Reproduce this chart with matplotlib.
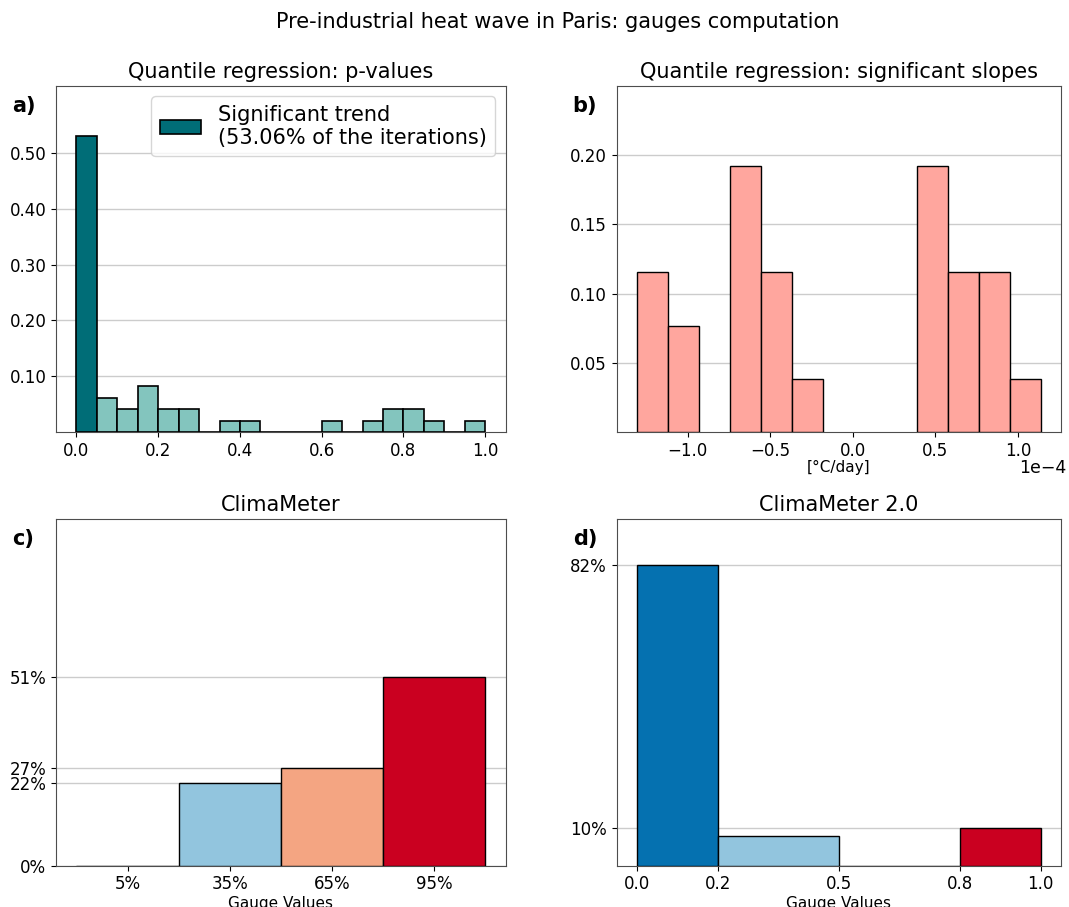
import numpy as np
import matplotlib
matplotlib.use("Agg")
import matplotlib.pyplot as plt
from matplotlib.ticker import FormatStrFormatter, FuncFormatter

# --- data -------------------------------------------------------------
n_iter = 49
# p-value histogram (counts per 0.05 bin, 0..1)
pval_edges = np.linspace(0.0, 1.0, 21)
pval_counts = [26, 3, 2, 4, 2, 2, 0, 1, 1, 0, 0, 0, 1, 0, 1, 2, 2, 1, 0, 1]
signif_pct = 53.06

# significant slopes histogram (°C/day)
slope_lo, slope_hi, slope_nbins = -1.307e-4, 1.139e-4, 13
slope_counts = [3, 2, 0, 5, 3, 1, 0, 0, 0, 5, 3, 3, 1]
slope_exp = -4

# ClimaMeter gauge
cm_labels = ["5%", "35%", "65%", "95%"]
cm_counts = [0, 11, 13, 25]

# ClimaMeter 2.0 gauge
cm2_edges = [0.0, 0.2, 0.5, 0.8, 1.0]
cm2_counts = [40, 4, 0, 5]

gauge_colors = ["#0571b0", "#92c5de", "#f4a582", "#ca0020"]

# --- figure -----------------------------------------------------------
plt.rcParams.update({
    "font.family": "DejaVu Sans",
    "axes.edgecolor": "0.3",
    "xtick.labelsize": 12,
    "ytick.labelsize": 12,
})

fig = plt.figure(figsize=(10.69, 9.07), dpi=100)
W, H = 1069, 907


def place(l, r, t, b):
    return fig.add_axes([l / W, 1 - b / H, (r - l) / W, (b - t) / H])


ax_a = place(56, 505.7, 86, 432)
ax_b = place(616.7, 1061, 86, 432)
ax_c = place(56, 505.7, 519.3, 865.7)
ax_d = place(616.7, 1061, 519.3, 865.7)

grid_kw = dict(color="0.8", linewidth=1.0)

# a) p-values
pw = np.asarray(pval_counts) / n_iter
centers = (pval_edges[:-1] + pval_edges[1:]) / 2
cols = ["#006d77"] + ["#83c5be"] * (len(pw) - 1)
bars = ax_a.bar(centers, pw, width=np.diff(pval_edges), color=cols,
                edgecolor="black", linewidth=1.2, zorder=3)
ax_a.set_ylim(0, 0.62)
ax_a.set_yticks([0.1, 0.2, 0.3, 0.4, 0.5])
ax_a.yaxis.set_major_formatter(FormatStrFormatter("%.2f"))
ax_a.set_xticks([0.0, 0.2, 0.4, 0.6, 0.8, 1.0])
ax_a.set_axisbelow(True)
ax_a.yaxis.grid(True, **grid_kw)
ax_a.set_title("Quantile regression: p-values", fontsize=15)
ax_a.legend([bars[0]], [f"Significant trend\n({signif_pct:.2f}% of the iterations)"],
            loc="upper right", fontsize=15, handlelength=2.0,
            borderaxespad=0.5, labelspacing=0.2)

# b) significant slopes
s_edges = np.linspace(slope_lo, slope_hi, slope_nbins + 1)
sw = np.asarray(slope_counts) / sum(slope_counts)
s_centers = (s_edges[:-1] + s_edges[1:]) / 2
nz = sw > 0
ax_b.bar(s_centers[nz], sw[nz], width=np.diff(s_edges)[nz], color="#ffa69e",
         edgecolor="black", linewidth=1.0, zorder=3)
ax_b.set_xlim(slope_lo - 0.05 * (slope_hi - slope_lo),
              slope_hi + 0.05 * (slope_hi - slope_lo))
ax_b.set_ylim(0, 0.25)
ax_b.set_yticks([0.05, 0.10, 0.15, 0.20])
ax_b.yaxis.set_major_formatter(FormatStrFormatter("%.2f"))
scale = 10.0 ** slope_exp
ax_b.set_xticks(np.array([-1.0, -0.5, 0.0, 0.5, 1.0]) * scale)
ax_b.xaxis.set_major_formatter(
    FuncFormatter(lambda v, _: f"{v / scale:.1f}".replace("-", "\u2212")))
ax_b.text(1.011, -0.103, f"1e\u2212{abs(slope_exp)}", transform=ax_b.transAxes,
          ha="right", va="center", fontsize=12.5)
ax_b.set_axisbelow(True)
ax_b.yaxis.grid(True, **grid_kw)
ax_b.set_xlabel("[°C/day]", fontsize=11, labelpad=0)
ax_b.set_title("Quantile regression: significant slopes", fontsize=15)

# c) ClimaMeter
cw = np.asarray(cm_counts) / n_iter * 100
xpos = np.arange(len(cm_labels))
ax_c.bar(xpos, cw, width=1.0, color=gauge_colors, edgecolor="black",
         linewidth=1.0, zorder=3)
ax_c.set_xticks(xpos)
ax_c.set_xticklabels(cm_labels)
ax_c.set_ylim(0, 93.9)
ax_c.set_yticks(cw)
ax_c.set_yticklabels([f"{v:.0f}%" for v in cw])
ax_c.set_axisbelow(True)
ax_c.yaxis.grid(True, **grid_kw)
ax_c.set_xlabel("Gauge Values", fontsize=11, labelpad=2)
ax_c.set_title("ClimaMeter", fontsize=15)

# d) ClimaMeter 2.0
dw = np.asarray(cm2_counts) / n_iter * 100
d_centers = [(a + b) / 2 for a, b in zip(cm2_edges[:-1], cm2_edges[1:])]
ax_d.bar(d_centers, dw, width=np.diff(cm2_edges), color=gauge_colors,
         edgecolor="black", linewidth=1.0, zorder=3)
ax_d.set_xticks(cm2_edges)
ax_d.set_xticklabels([f"{v:.1f}" for v in cm2_edges])
ax_d.set_ylim(0, 93.9)
d_ticks = [dw[0], dw[3]]
ax_d.set_yticks(d_ticks)
ax_d.set_yticklabels([f"{v:.0f}%" for v in d_ticks])
ax_d.set_axisbelow(True)
ax_d.yaxis.grid(True, **grid_kw)
ax_d.set_xlabel("Gauge Values", fontsize=11, labelpad=2)
ax_d.set_title("ClimaMeter 2.0", fontsize=15)

for ax, letter in zip([ax_a, ax_b, ax_c, ax_d], ["a)", "b)", "c)", "d)"]):
    pos = ax.get_position()
    fig.text(pos.x0 - 44 / W, pos.y1 - 20 / H, letter, fontsize=15,
             fontweight="bold", va="center", ha="left")

fig.suptitle("Pre-industrial heat wave in Paris: gauges computation",
             fontsize=15, x=558 / W, y=1 - 22 / H, va="center")

fig.savefig("out.png", dpi=100)
